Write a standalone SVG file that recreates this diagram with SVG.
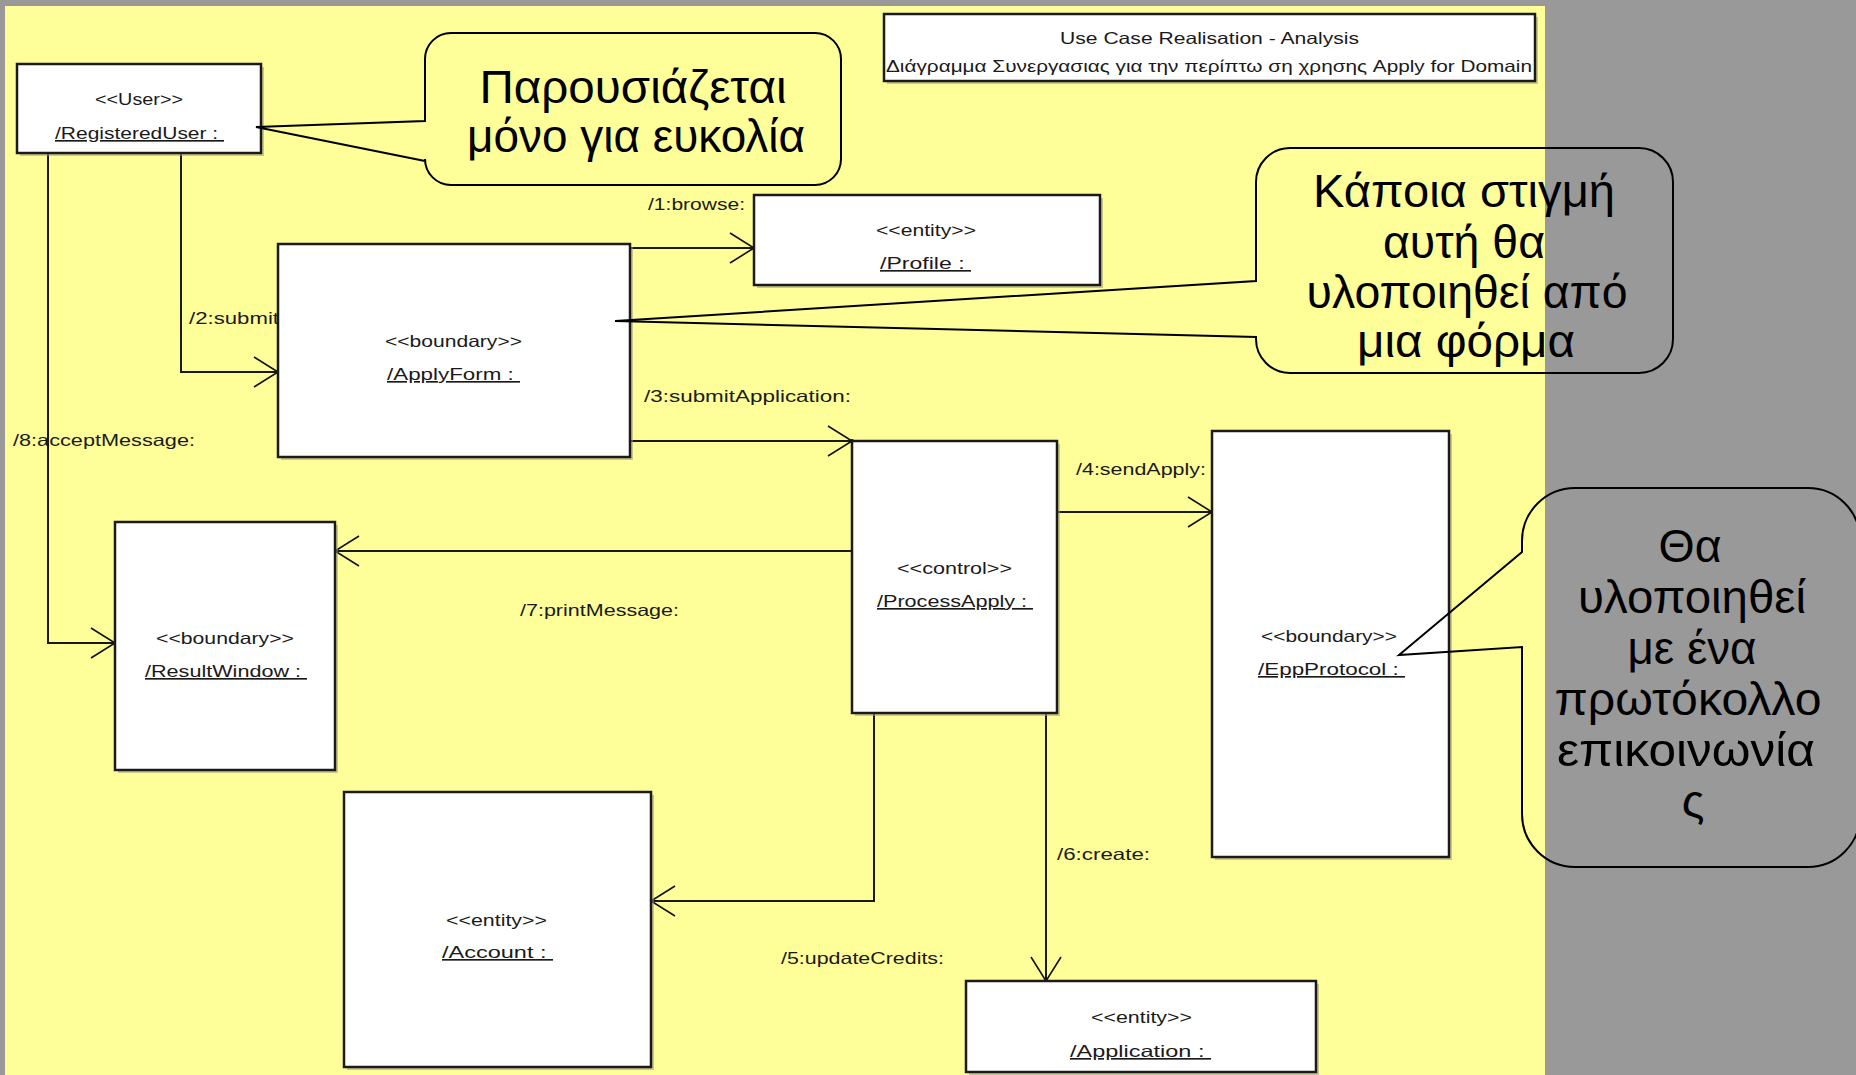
<svg xmlns="http://www.w3.org/2000/svg" width="1856" height="1075" viewBox="0 0 1856 1075">
<style>
.box{fill:#ffffff;stroke:#1a1a1a;stroke-width:2.5}
.shadow{fill:#9a9a80;opacity:0.55}
.t{font-family:"Liberation Sans",Arial,sans-serif;font-size:16.5px;fill:#1a1a1a}
.u{text-decoration:underline}
.lbl{font-family:"Liberation Sans",Arial,sans-serif;font-size:16.5px;fill:#1a1a1a}
.con{fill:none;stroke:#1a1a1a;stroke-width:2}
.bub{fill:none;stroke:#000;stroke-width:2}
.big{font-family:"Liberation Sans",Arial,sans-serif;font-size:47px;fill:#000;text-anchor:middle}
</style>
<defs>
<marker id="arr" viewBox="-30 -20 40 40" markerWidth="40" markerHeight="40" refX="0" refY="0" orient="auto" markerUnits="userSpaceOnUse">
<path d="M-24,-15 L0,0 L-24,15" fill="none" stroke="#111" stroke-width="1.6"/>
<circle cx="0" cy="0" r="2" fill="#111"/>
</marker>
</defs>
<rect x="0" y="0" width="1856" height="1075" fill="#999999"/>
<rect x="5" y="6" width="1540" height="1069" fill="#FFFF99"/>

<g id="title">
<rect x="887" y="17" width="651" height="67" class="shadow"/>
<rect x="884" y="14" width="651" height="67" class="box" stroke-width="2"/>
<text x="1060" y="44" class="t" textLength="299" lengthAdjust="spacingAndGlyphs">Use Case Realisation - Analysis</text>
<text x="886" y="72" class="t" textLength="646" lengthAdjust="spacingAndGlyphs">Διάγραμμα Συνεργασιας για την περίπτω ση χρησης Apply for Domain</text>
</g>

<g id="connectors">
<polyline class="con" points="630,248 754,248" marker-end="url(#arr)"/>
<polyline class="con" points="181,153 181,372 278,372" marker-end="url(#arr)"/>
<polyline class="con" points="630,441 852,441" marker-end="url(#arr)"/>
<polyline class="con" points="1057,512 1212,512" marker-end="url(#arr)"/>
<polyline class="con" points="874,713 874,901 651,901" marker-end="url(#arr)"/>
<polyline class="con" points="1046,713 1046,981" marker-end="url(#arr)"/>
<polyline class="con" points="852,551 335,551" marker-end="url(#arr)"/>
<polyline class="con" points="48,153 48,643 115,643" marker-end="url(#arr)"/>
<text x="648" y="210" class="lbl" textLength="97" lengthAdjust="spacingAndGlyphs">/1:browse:</text>
<text x="189" y="324" class="lbl" textLength="90" lengthAdjust="spacingAndGlyphs">/2:submit</text>
<text x="644" y="402" class="lbl" textLength="207" lengthAdjust="spacingAndGlyphs">/3:submitApplication:</text>
<text x="1076" y="475" class="lbl" textLength="130" lengthAdjust="spacingAndGlyphs">/4:sendApply:</text>
<text x="781" y="964" class="lbl" textLength="163" lengthAdjust="spacingAndGlyphs">/5:updateCredits:</text>
<text x="1057" y="860" class="lbl" textLength="93" lengthAdjust="spacingAndGlyphs">/6:create:</text>
<text x="520" y="616" class="lbl" textLength="159" lengthAdjust="spacingAndGlyphs">/7:printMessage:</text>
<text x="13" y="446" class="lbl" textLength="182" lengthAdjust="spacingAndGlyphs">/8:acceptMessage:</text>
</g>

<g id="RegisteredUser">
<rect x="20" y="67" width="244" height="89" class="shadow"/>
<rect x="17" y="64" width="244" height="89" class="box"/>
<text x="95" y="105" class="t" textLength="88" lengthAdjust="spacingAndGlyphs">&lt;&lt;User&gt;&gt;</text>
<text x="55" y="139" class="t u" textLength="169" lengthAdjust="spacingAndGlyphs">/RegisteredUser :&#160;</text>
</g>

<g id="Profile">
<rect x="757" y="198" width="346" height="90" class="shadow"/>
<rect x="754" y="195" width="346" height="90" class="box"/>
<text x="876" y="236" class="t" textLength="100" lengthAdjust="spacingAndGlyphs">&lt;&lt;entity&gt;&gt;</text>
<text x="880" y="269" class="t u" textLength="91" lengthAdjust="spacingAndGlyphs">/Profile :&#160;</text>
</g>

<g id="ApplyForm">
<rect x="281" y="247" width="352" height="213" class="shadow"/>
<rect x="278" y="244" width="352" height="213" class="box"/>
<text x="385" y="347" class="t" textLength="137" lengthAdjust="spacingAndGlyphs">&lt;&lt;boundary&gt;&gt;</text>
<text x="387" y="380" class="t u" textLength="133" lengthAdjust="spacingAndGlyphs">/ApplyForm :&#160;</text>
</g>

<g id="ProcessApply">
<rect x="855" y="444" width="205" height="272" class="shadow"/>
<rect x="852" y="441" width="205" height="272" class="box"/>
<text x="897" y="574" class="t" textLength="115" lengthAdjust="spacingAndGlyphs">&lt;&lt;control&gt;&gt;</text>
<text x="877" y="607" class="t u" textLength="156" lengthAdjust="spacingAndGlyphs">/ProcessApply :&#160;</text>
</g>

<g id="EppProtocol">
<rect x="1215" y="434" width="237" height="426" class="shadow"/>
<rect x="1212" y="431" width="237" height="426" class="box"/>
<text x="1261" y="642" class="t" textLength="136" lengthAdjust="spacingAndGlyphs">&lt;&lt;boundary&gt;&gt;</text>
<text x="1258" y="675" class="t u" textLength="147" lengthAdjust="spacingAndGlyphs">/EppProtocol :&#160;</text>
</g>

<g id="ResultWindow">
<rect x="118" y="525" width="220" height="248" class="shadow"/>
<rect x="115" y="522" width="220" height="248" class="box"/>
<text x="156" y="644" class="t" textLength="138" lengthAdjust="spacingAndGlyphs">&lt;&lt;boundary&gt;&gt;</text>
<text x="145" y="677" class="t u" textLength="162" lengthAdjust="spacingAndGlyphs">/ResultWindow :&#160;</text>
</g>

<g id="Account">
<rect x="347" y="795" width="307" height="275" class="shadow"/>
<rect x="344" y="792" width="307" height="275" class="box"/>
<text x="446" y="926" class="t" textLength="101" lengthAdjust="spacingAndGlyphs">&lt;&lt;entity&gt;&gt;</text>
<text x="442" y="958" class="t u" textLength="111" lengthAdjust="spacingAndGlyphs">/Account :&#160;</text>
</g>

<g id="Application">
<rect x="969" y="984" width="350" height="91" class="shadow"/>
<rect x="966" y="981" width="350" height="91" class="box"/>
<text x="1091" y="1023" class="t" textLength="101" lengthAdjust="spacingAndGlyphs">&lt;&lt;entity&gt;&gt;</text>
<text x="1070" y="1057" class="t u" textLength="141" lengthAdjust="spacingAndGlyphs">/Application :&#160;</text>
</g>

<g id="note1">
<path class="bub" d="M451,33 H815 A26,26 0 0 1 841,59 V159 A26,26 0 0 1 815,185 H451 A26,26 0 0 1 425,159 V161 L256,127 L425,121 V59 A26,26 0 0 1 451,33 Z"/>
<text x="633" y="103" class="big" textLength="307" lengthAdjust="spacingAndGlyphs">Παρουσιάζεται</text>
<text x="636" y="152" class="big" textLength="338" lengthAdjust="spacingAndGlyphs">μόνο για ευκολία</text>
</g>

<g id="note2">
<path class="bub" d="M1290,148 H1639 A34,34 0 0 1 1673,182 V339 A34,34 0 0 1 1639,373 H1290 A34,34 0 0 1 1256,339 V337 L615,321 L1256,281 V182 A34,34 0 0 1 1290,148 Z"/>
<text x="1464" y="207" class="big" textLength="302" lengthAdjust="spacingAndGlyphs">Κάποια στιγμή</text>
<text x="1464" y="258" class="big" textLength="162" lengthAdjust="spacingAndGlyphs">αυτή θα</text>
<text x="1467" y="308" class="big" textLength="321" lengthAdjust="spacingAndGlyphs">υλοποιηθεί από</text>
<text x="1466" y="357" class="big" textLength="218" lengthAdjust="spacingAndGlyphs">μια φόρμα</text>
</g>

<g id="note3">
<path class="bub" d="M1575,488 H1808 A52,52 0 0 1 1860,540 V815 A52,52 0 0 1 1808,867 H1575 A53,53 0 0 1 1522,814 V647 L1399,655 L1522,552 V541 A53,53 0 0 1 1575,488 Z"/>
<text x="1690" y="562" class="big" textLength="63" lengthAdjust="spacingAndGlyphs">Θα</text>
<text x="1692" y="613" class="big" textLength="228" lengthAdjust="spacingAndGlyphs">υλοποιηθεί</text>
<text x="1692" y="664" class="big" textLength="129" lengthAdjust="spacingAndGlyphs">με ένα</text>
<text x="1688" y="715" class="big" textLength="267" lengthAdjust="spacingAndGlyphs">πρωτόκολλο</text>
<text x="1686" y="766" class="big" textLength="258" lengthAdjust="spacingAndGlyphs">επικοινωνία</text>
<text x="1693" y="817" class="big">ς</text>
</g>
</svg>
